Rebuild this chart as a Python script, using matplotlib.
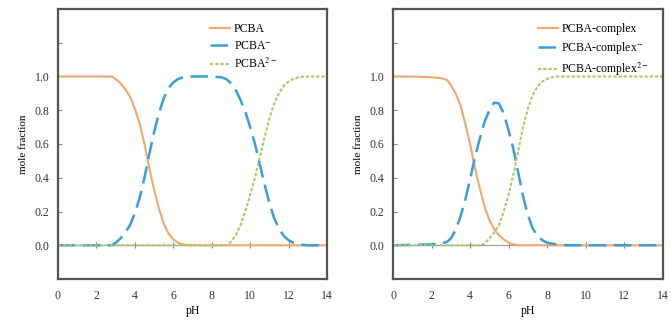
import matplotlib
matplotlib.use("Agg")
import matplotlib.pyplot as plt

plt.rcParams['font.family'] = ['Liberation Serif', 'DejaVu Serif']
plt.rcParams['mathtext.fontset'] = 'stix'

# mole fractions (pH, value) per species

# free PCBA
ph_a0 = [0, 2, 2.8, 3.0, 3.25, 3.5, 3.75, 4, 4.25, 4.5, 4.75, 5, 5.25, 5.5, 5.75, 6, 6.25, 6.5, 7, 14]
pcba = [1, 1, 1, 0.985, 0.96, 0.925, 0.88, 0.81, 0.72, 0.6, 0.46, 0.33, 0.22, 0.13, 0.07, 0.035, 0.015, 0.005, 0, 0]

ph_a1 = [0, 2.8, 3, 3.25, 3.5, 3.75, 4, 4.25, 4.5, 4.75, 5, 5.25, 5.5, 5.75, 6, 6.25, 6.5, 7, 8, 8.5,
         8.75, 9, 9.25, 9.5, 9.75, 10, 10.25, 10.5, 10.75, 11, 11.25, 11.5, 11.75, 12, 12.25, 12.5, 13, 14]
pcba_1 = [0, 0, 0.015, 0.04, 0.075, 0.12, 0.19, 0.28, 0.4, 0.54, 0.67, 0.78, 0.87, 0.93, 0.965, 0.985, 0.995, 1, 1, 0.995,
          0.985, 0.96, 0.92, 0.86, 0.79, 0.7, 0.6, 0.48, 0.36, 0.25, 0.16, 0.1, 0.055, 0.03, 0.015, 0.005, 0, 0]

ph_a2 = [0, 8.8, 9, 9.25, 9.5, 9.75, 10, 10.25, 10.5, 10.75, 11, 11.25, 11.5, 11.75, 12, 12.25, 12.5, 13, 14]
pcba_2 = [0, 0, 0.02, 0.06, 0.12, 0.2, 0.3, 0.4, 0.52, 0.64, 0.75, 0.84, 0.9, 0.945, 0.97, 0.985, 0.995, 1, 1]

# PCBA complex
ph_c0 = [0, 1, 2, 2.5, 2.8, 3, 3.25, 3.5, 3.75, 4, 4.25, 4.5, 4.75, 5, 5.25, 5.5, 5.75, 6, 6.25, 6.5, 14]
cplx = [1, 1, 0.995, 0.99, 0.98, 0.95, 0.9, 0.83, 0.72, 0.6, 0.46, 0.34, 0.23, 0.15, 0.095, 0.06, 0.035, 0.015, 0.005, 0, 0]

ph_c1 = [0, 2, 2.5, 2.8, 3, 3.25, 3.5, 3.75, 4, 4.25, 4.5, 4.75, 5, 5.25, 5.5, 5.75, 6, 6.25, 6.5,
         6.75, 7, 7.25, 7.5, 7.75, 8, 8.5, 9, 14]
cplx_1 = [0, 0.005, 0.01, 0.02, 0.04, 0.09, 0.17, 0.27, 0.39, 0.52, 0.63, 0.73, 0.8, 0.845, 0.84, 0.78, 0.68, 0.57, 0.43,
          0.29, 0.18, 0.1, 0.055, 0.03, 0.015, 0.005, 0, 0]

ph_c2 = [0, 4.5, 4.75, 5, 5.25, 5.5, 5.75, 6, 6.25, 6.5, 6.75, 7, 7.25, 7.5, 7.75, 8, 8.25, 8.5, 14]
cplx_2 = [0, 0, 0.01, 0.04, 0.075, 0.12, 0.2, 0.3, 0.42, 0.56, 0.7, 0.81, 0.89, 0.94, 0.97, 0.985, 0.995, 1, 1]

labels_left = ['PCBA', 'PCBA$^{-}$', 'PCBA$^{2-}$']
labels_right = ['PCBA-complex', 'PCBA-complex$^{-}$', 'PCBA-complex$^{2-}$']

c_orange = '#F6A76C'
c_blue = '#3A9FD8'
c_green = '#A9C96B'

fig = plt.figure(figsize=(6.71, 3.2), dpi=100)
ax1 = fig.add_axes([0.0864, 0.128, 0.401, 0.844])
ax2 = fig.add_axes([0.5857, 0.128, 0.402, 0.844])


def draw(ax, series, labels, leg_x):
    (x0, s0), (x1, s1), (x2, s2) = series
    ax.plot(x0, s0, color=c_orange, lw=1.5, ls='-', label=labels[0])
    ax.plot(x1, s1, color=c_blue, lw=1.8, dashes=(7, 3), label=labels[1])
    ax.plot(x2, s2, color=c_green, lw=1.5, dashes=(1.6, 0.9), label=labels[2])
    ax.set_xlim(0, 14)
    ax.set_ylim(-0.2, 1.4)
    ax.set_xticks(range(0, 15, 2))
    ax.set_yticks([-0.2, 0, 0.2, 0.4, 0.6, 0.8, 1.0, 1.2, 1.4])
    ax.set_yticklabels(['', '0.0', '0.2', '0.4', '0.6', '0.8', '1.0', '', ''])
    ax.tick_params(axis='x', length=0, pad=8, labelsize=8.5, colors='#333333')
    ax.tick_params(axis='y', direction='in', length=3, pad=6, labelsize=8.5,
                   colors='#333333', color='#888888')
    for sp in ax.spines.values():
        sp.set_color('#555555')
        sp.set_linewidth(1.6)
    # axis line at y = 0 with crossing tick marks
    sec = ax.secondary_xaxis(0.125)
    sec.set_xticks(range(2, 13, 2))
    sec.set_xticklabels([])
    sec.tick_params(direction='inout', length=5, color='#888888', width=0.8)
    sec.spines['bottom'].set_color('#999999')
    sec.spines['bottom'].set_linewidth(0.8)
    ax.set_xlabel('pH', fontsize=8.5, labelpad=2)
    ax.set_ylabel('mole fraction', fontsize=8, labelpad=5)
    ax.legend(loc='upper left', bbox_to_anchor=(leg_x, 0.948), frameon=False,
              fontsize=8.5, borderpad=0, borderaxespad=0, handlelength=1.7,
              handletextpad=0.3, labelspacing=0.42)


draw(ax1, [(ph_a0, pcba), (ph_a1, pcba_1), (ph_a2, pcba_2)], labels_left, 0.565)
draw(ax2, [(ph_c0, cplx), (ph_c1, cplx_1), (ph_c2, cplx_2)], labels_right, 0.537)

plt.savefig('out.png', dpi=100, facecolor='white')
